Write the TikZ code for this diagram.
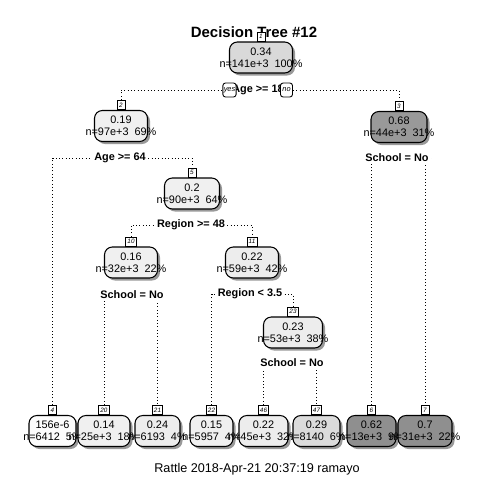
\documentclass[tikz,border=0pt]{standalone}
\usepackage{fontspec}
\setmainfont{Liberation Sans}
\usetikzlibrary{positioning,shadows,backgrounds}
\definecolor{fillwhite}{gray}{0.99}
\definecolor{filllight}{gray}{0.94}
\definecolor{fillpale}{gray}{0.93}
\definecolor{fillmid}{gray}{0.86}
\definecolor{fillroot}{gray}{0.85}
\definecolor{filldark}{gray}{0.60}
\definecolor{filldeep}{gray}{0.56}
\newdimen\pxu \pxu=0.02cm
\newcommand{\nodetext}[2]{\hbox to 0pt{\hss#1\hss}\\\hbox to 0pt{\hss#2\hss}}

\begin{document}
\begin{tikzpicture}[
  x=0.02cm, y=-0.02cm,
  font=\fontsize{6.2}{7}\selectfont,
  tree/.style={rectangle, draw=black, line width=0.6pt, rounded corners=4.5pt,
               minimum height=31\pxu, align=center, inner sep=0pt,
               drop shadow={shadow xshift=2.5\pxu, shadow yshift=-2.5\pxu,
                            fill=black, opacity=0.4}},
  tag/.style={rectangle, draw=black, line width=0.5pt, fill=white,
              minimum width=8\pxu, minimum height=9\pxu, inner xsep=1pt,
              inner ysep=0pt, font=\fontsize{3.6}{4}\selectfont\itshape},
  split/.style={fill=white, inner sep=1.2pt, font=\fontsize{6.2}{7}\selectfont\bfseries},
  yesno/.style={rectangle, draw=black, line width=0.5pt, fill=white,
                rounded corners=1.5pt, minimum width=12\pxu, minimum height=14\pxu,
                inner sep=0.5pt, font=\fontsize{4.2}{5}\selectfont\itshape},
  branch/.style={line width=0.55pt, dash pattern=on 0.55pt off 1.35pt}
]
  \useasboundingbox (0,0) rectangle (480,480);

  \node[font=\fontsize{8.5}{10}\selectfont\bfseries] (title) at (254,32) {Decision Tree \#12};

  % inner nodes
  \node[tree, fill=fillroot,  minimum width=63\pxu] (n1)  at (261,57.5)  {\nodetext{0.34}{n=141e+3\ \ 100\%}};
  \node[tree, fill=filllight, minimum width=53\pxu] (n2)  at (121,126)   {\nodetext{0.19}{n=97e+3\ \ 69\%}};
  \node[tree, fill=filldark,  minimum width=56\pxu] (n3)  at (399,127)   {\nodetext{0.68}{n=44e+3\ \ 31\%}};
  \node[tree, fill=filllight, minimum width=55\pxu] (n5)  at (192,193.5) {\nodetext{0.2}{n=90e+3\ \ 64\%}};
  \node[tree, fill=filllight, minimum width=53\pxu] (n10) at (131,262.5) {\nodetext{0.16}{n=32e+3\ \ 22\%}};
  \node[tree, fill=fillpale,  minimum width=53\pxu] (n11) at (252,262.5) {\nodetext{0.22}{n=59e+3\ \ 42\%}};
  \node[tree, fill=fillpale,  minimum width=59\pxu] (n23) at (293,332.5) {\nodetext{0.23}{n=53e+3\ \ 38\%}};

  % leaves
  \node[tree, fill=fillwhite, minimum width=47\pxu] (n4)  at (52.5,431)  {\nodetext{156e-6}{n=6412\ \ 5\%}};
  \node[tree, fill=filllight, minimum width=52\pxu] (n20) at (104,431)   {\nodetext{0.14}{n=25e+3\ \ 18\%}};
  \node[tree, fill=fillpale,  minimum width=45\pxu] (n21) at (157.5,431) {\nodetext{0.24}{n=6193\ \ 4\%}};
  \node[tree, fill=filllight, minimum width=43\pxu] (n22) at (211.5,431) {\nodetext{0.15}{n=5957\ \ 4\%}};
  \node[tree, fill=fillpale,  minimum width=49\pxu] (n46) at (263.5,431) {\nodetext{0.22}{n=45e+3\ \ 32\%}};
  \node[tree, fill=fillmid,   minimum width=47\pxu] (n47) at (316.5,431) {\nodetext{0.29}{n=8140\ \ 6\%}};
  \node[tree, fill=filldeep,  minimum width=49\pxu] (n6)  at (371.5,431) {\nodetext{0.62}{n=13e+3\ \ 9\%}};
  \node[tree, fill=filldeep,  minimum width=54\pxu] (n7)  at (425,431)   {\nodetext{0.7}{n=31e+3\ \ 22\%}};

  % node numbers
  \foreach \k in {1,2,3,5,10,11,23,4,20,21,22,46,47,6,7}
    \node[tag, above=0pt of n\k] (t\k) {\k};

  % split labels
  \node[split] (s1)  at (258,90)  {Age >= 18};
  \node[split] (s2)  at (120,158) {Age >= 64};
  \node[split] (s3)  at (397,158) {School = No};
  \node[split] (s5)  at (191,225) {Region >= 48};
  \node[split] (s10) at (132,295) {School = No};
  \node[split] (s11) at (250,294) {Region < 3.5};
  \node[split] (s23) at (292,363) {School = No};

  \node[yesno] (yes) at (229.5,90) {yes};
  \node[yesno] (no)  at (286.5,90) {no};

  \node[font=\fontsize{7.2}{9}\selectfont] (stamp) at (257,469) {Rattle 2018-Apr-21 20:37:19 ramayo};

  \begin{scope}[on background layer]
    \fill[white] (0,0) rectangle (480,480);
    \draw[branch] (t2.north)  |- (s1)  -| (t3.north);
    \draw[branch] (t4.north)  |- (s2)  -| (t5.north);
    \draw[branch] (t6.north)  |- (s3)  -| (t7.north);
    \draw[branch] (t10.north) |- (s5)  -| (t11.north);
    \draw[branch] (t20.north) |- (s10) -| (t21.north);
    \draw[branch] (t22.north) |- (s11) -| (t23.north);
    \draw[branch] (t46.north) |- (s23) -| (t47.north);
  \end{scope}
\end{tikzpicture}
\end{document}
